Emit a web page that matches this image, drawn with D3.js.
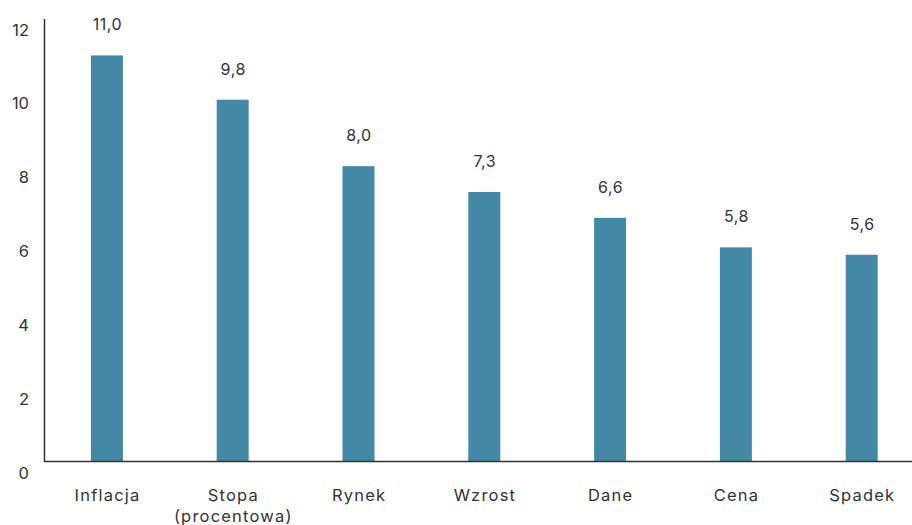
<!DOCTYPE html>
<html>
<head>
<meta charset="utf-8">
<script src="https://cdn.jsdelivr.net/npm/d3@7/dist/d3.min.js"></script>
<style>
  body { margin: 0; background: #fff; }
  svg { display: block; font-family: "Inter", "Open Sans", sans-serif; }
</style>
</head>
<body>
<svg id="chart" width="912" height="525"></svg>
<script>
// Word frequency data
const categories = ["Inflacja", "Stopa (procentowa)", "Rynek", "Wzrost", "Dane", "Cena", "Spadek"];
const categoryLines = [["Inflacja"], ["Stopa", "(procentowa)"], ["Rynek"], ["Wzrost"], ["Dane"], ["Cena"], ["Spadek"]];
const values = [11.0, 9.8, 8.0, 7.3, 6.6, 5.8, 5.6];
const valueLabels = ["11,0", "9,8", "8,0", "7,3", "6,6", "5,8", "5,6"];
const yTicks = [0, 2, 4, 6, 8, 10, 12];

(function () {
  const svg = d3.select("#chart");
  const m = { left: 44, right: 924.6, top: 18.5, bottom: 461.5 };
  const textColor = "#333333";
  const barColor = "#4389a6";

  const x = d3.scalePoint().domain(categories).range([m.left, m.right]).padding(0.5);
  const y = d3.scaleLinear().domain([0, 12]).range([m.bottom, m.top]);
  const barWidth = 32;

  // Bars
  svg.append("g").selectAll("rect")
    .data(values)
    .join("rect")
    .attr("x", (d, i) => x(categories[i]) - barWidth / 2)
    .attr("y", d => y(d))
    .attr("width", barWidth)
    .attr("height", d => y(0) - y(d))
    .attr("fill", barColor);

  // Value labels above bars
  svg.append("g").selectAll("text")
    .data(values)
    .join("text")
    .attr("x", (d, i) => x(categories[i]) + 0.5)
    .attr("y", d => y(d) - 25)
    .attr("text-anchor", "middle")
    .attr("font-size", 16)
    .attr("letter-spacing", 0.5)
    .attr("fill", textColor)
    .text((d, i) => valueLabels[i]);

  // Y axis
  const yAxis = d3.axisLeft(y).tickValues(yTicks).tickSize(0).tickPadding(0).tickFormat(d3.format("d"));
  const gy = svg.append("g").attr("transform", `translate(${m.left},0)`).call(yAxis);
  gy.select(".domain").attr("stroke", textColor).attr("stroke-width", 1.5);
  gy.selectAll("text")
    .attr("x", -15)
    .attr("dy", "1em")
    .attr("font-size", 16.5)
    .attr("font-family", "Inter, sans-serif")
    .attr("fill", textColor);

  // X axis baseline
  svg.append("line")
    .attr("x1", m.left).attr("x2", 912)
    .attr("y1", y(0)).attr("y2", y(0))
    .attr("stroke", textColor).attr("stroke-width", 1.5);

  // Category labels
  const xl = svg.append("g").selectAll("text")
    .data(categories)
    .join("text")
    .attr("y", 501)
    .attr("text-anchor", "middle")
    .attr("font-size", 16.5)
    .attr("letter-spacing", 1.2)
    .attr("fill", textColor);
  xl.each(function (d, i) {
    d3.select(this).selectAll("tspan")
      .data(categoryLines[i])
      .join("tspan")
      .attr("x", x(d) + 0.6)
      .attr("dy", (t, j) => j === 0 ? 0 : 21)
      .text(t => t);
  });
})();
</script>
</body>
</html>
